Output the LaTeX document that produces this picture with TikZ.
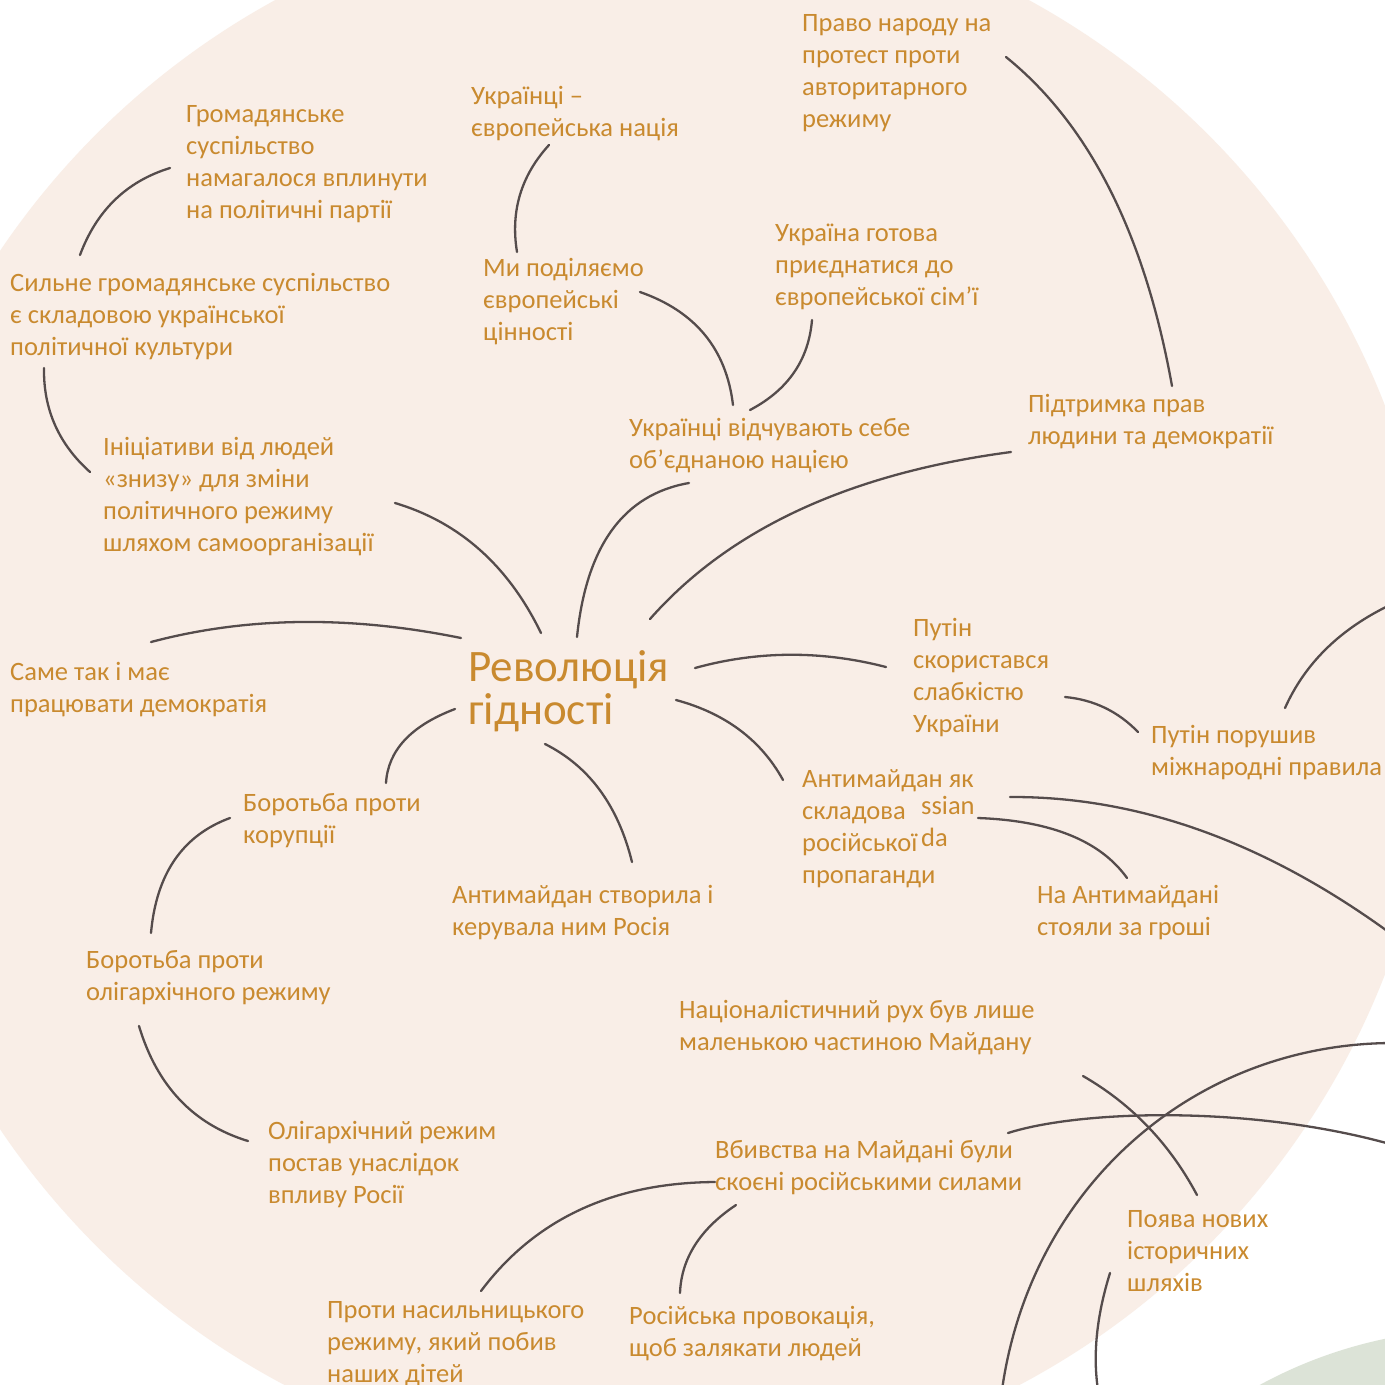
\documentclass[tikz,border=0pt]{standalone}
\usepackage{fontspec}
\setmainfont{Carlito}
\usetikzlibrary{calc}
\definecolor{beigec}{HTML}{F9EEE7}
\definecolor{greenc}{HTML}{DCE3D7}
\definecolor{txtc}{HTML}{C98A2F}
\definecolor{linec}{HTML}{554C4C}
\newcommand\tstrut{\rule{0pt}{24pt}}
\newcommand\bstrut{\rule{0pt}{35pt}}
% quadratic curve from #1 with control #2 to #3
\newcommand\qcurve[3]{\draw[conn] (#1) .. controls ($(#1)!0.6667!(#2)$) and ($(#3)!0.6667!(#2)$) .. (#3);}
\begin{document}
\begin{tikzpicture}[x=1pt,y=-1pt,
  lbl/.style={anchor=north west, inner sep=0pt, align=left, text=txtc,
    font=\fontsize{26.5}{32}\selectfont},
  title/.style={anchor=north west, inner sep=0pt, align=left, text=txtc,
    font=\fontsize{45}{43}\selectfont},
  conn/.style={draw=linec, line width=2.3pt, line cap=round}]
\useasboundingbox (0,0) rectangle (1385,1385);
\clip (0,0) rectangle (1385,1385);
\fill[white] (0,0) rectangle (1385,1385);
\fill[beigec] (652,690) circle[radius=786pt];
\fill[greenc] (1480,1790) circle[radius=461pt];

% labels
\node[lbl] (grom) at (186,98) {\tstrut Громадянське\\суспільство\\намагалося вплинути\\на політичні партії};
\node[lbl] (sylne) at (10,267) {\tstrut Сильне громадянське суспільство\\є складовою української\\політичної культури};
\node[lbl] (ukr) at (471,80) {\tstrut Українці –\\європейська нація};
\node[lbl] (pravo) at (802,7) {\tstrut Право народу на\\протест проти\\авторитарного\\режиму};
\node[lbl] (my) at (483,252) {\tstrut Ми поділяємо\\європейські\\цінності};
\node[lbl] (ukraina) at (775,217) {\tstrut Україна готова\\приєднатися до\\європейської сім’ї};
\node[lbl] (vidch) at (629,412) {\tstrut Українці відчувають себе\\об’єднаною нацією};
\node[lbl] (pidtr) at (1028,388) {\tstrut Підтримка прав\\людини та демократії};
\node[lbl] (inic) at (103,431) {\tstrut Ініціативи від людей\\«знизу» для зміни\\політичного режиму\\шляхом самоорганізації};
\node[lbl] (same) at (10,656) {\tstrut Саме так і має\\працювати демократія};
\node[title] (rev) at (468,646) {\bstrut Революція\\гідності};
\node[lbl] (putin1) at (913,612) {\tstrut Путін\\скористався\\слабкістю\\України};
\node[lbl] (putin2) at (1151,719) {\tstrut Путін порушив\\міжнародні правила};
\node[lbl] (antim) at (802,763) {\tstrut Антимайдан як\\складова\\російської\\пропаганди};
\node[lbl] (ssian) at (921,790) {\tstrut ssian};
\node[lbl] (da) at (921,822) {\tstrut da};
\node[lbl] (naant) at (1037,879) {\tstrut На Антимайдані\\стояли за гроші};
\node[lbl] (borkor) at (243,787) {\tstrut Боротьба проти\\корупції};
\node[lbl] (antstv) at (452,879) {\tstrut Антимайдан створила і\\керувала ним Росія};
\node[lbl] (borolig) at (86,944) {\tstrut Боротьба проти\\олігархічного режиму};
\node[lbl] (nac) at (679,994) {\tstrut Націоналістичний рух був лише\\маленькою частиною Майдану};
\node[lbl] (olig) at (268,1115) {\tstrut Олігархічний режим\\постав унаслідок\\впливу Росії};
\node[lbl] (vbyv) at (715,1134) {\tstrut Вбивства на Майдані були\\скоєні російськими силами};
\node[lbl] (poyava) at (1127,1203) {\tstrut Поява нових\\історичних\\шляхів};
\node[lbl] (proty) at (327,1294) {\tstrut Проти насильницького\\режиму, який побив\\наших дітей};
\node[lbl] (rosprov) at (629,1300) {\tstrut Російська провокація,\\щоб залякати людей};

% connector end points and control points
\coordinate (a1) at (170,168); \coordinate (ac) at (105,188); \coordinate (a2) at (80,255);
\coordinate (b1) at (44,368); \coordinate (bc) at (43,430); \coordinate (b2) at (90,472);
\coordinate (c1) at (549,145); \coordinate (cc) at (507,191); \coordinate (c2) at (517,252);
\coordinate (d1) at (640,292); \coordinate (dc) at (723,321); \coordinate (d2) at (733,405);
\coordinate (e1) at (812,320); \coordinate (ec) at (807,380); \coordinate (e2) at (750,410);
\coordinate (f1) at (1006,57); \coordinate (fc) at (1131,158); \coordinate (f2) at (1172,386);
\coordinate (g1) at (395,503); \coordinate (gc) at (492,532); \coordinate (g2) at (541,633);
\coordinate (h1) at (689,483); \coordinate (hc) at (591,500); \coordinate (h2) at (577,637);
\coordinate (i1) at (1011,452); \coordinate (ic) at (769,484); \coordinate (i2) at (650,619);
\coordinate (j1) at (151,642); \coordinate (jc) at (294,604); \coordinate (j2) at (461,638);
\coordinate (k1) at (695,668); \coordinate (kc) at (789,642); \coordinate (k2) at (886,667);
\coordinate (l1) at (1065,697); \coordinate (lc) at (1108,701); \coordinate (l2) at (1138,732);
\coordinate (m1) at (1285,708); \coordinate (mc) at (1315,641); \coordinate (m2) at (1390,605);
\coordinate (n1) at (676,700); \coordinate (nc) at (750,720); \coordinate (n2) at (783,780);
\coordinate (o1) at (455,709); \coordinate (oc) at (389,734); \coordinate (o2) at (386,783);
\coordinate (p1) at (545,744); \coordinate (pc) at (611,777); \coordinate (p2) at (632,862);
\coordinate (q1) at (1010,797); \coordinate (qc) at (1202,796); \coordinate (q2) at (1390,933);
\coordinate (r1) at (978,818); \coordinate (rc) at (1087,822); \coordinate (r2) at (1127,878);
\coordinate (s1) at (230,818); \coordinate (sc) at (159,844); \coordinate (s2) at (151,933);
\coordinate (t1) at (139,1026); \coordinate (tc) at (166,1116); \coordinate (t2) at (248,1141);
\coordinate (u1) at (715,1182); \coordinate (uc) at (562,1183); \coordinate (u2) at (481,1291);
\coordinate (v1) at (736,1205); \coordinate (vc) at (682,1241); \coordinate (v2) at (680,1293);
\coordinate (w1) at (1008,1133); \coordinate (w2) at (1390,1144);
\coordinate (x1) at (1390,1043); \coordinate (x2) at (1002,1390);
\coordinate (y1) at (1083,1076); \coordinate (yc) at (1156,1118); \coordinate (y2) at (1197,1195);
\coordinate (z1) at (1110,1273); \coordinate (zc) at (1090,1337); \coordinate (z2) at (1098,1390);

% connectors
\qcurve{a1}{ac}{a2}
\qcurve{b1}{bc}{b2}
\qcurve{c1}{cc}{c2}
\qcurve{d1}{dc}{d2}
\qcurve{e1}{ec}{e2}
\qcurve{f1}{fc}{f2}
\qcurve{g1}{gc}{g2}
\qcurve{h1}{hc}{h2}
\qcurve{i1}{ic}{i2}
\qcurve{j1}{jc}{j2}
\qcurve{k1}{kc}{k2}
\qcurve{l1}{lc}{l2}
\qcurve{m1}{mc}{m2}
\qcurve{n1}{nc}{n2}
\qcurve{o1}{oc}{o2}
\qcurve{p1}{pc}{p2}
\qcurve{q1}{qc}{q2}
\qcurve{r1}{rc}{r2}
\qcurve{s1}{sc}{s2}
\qcurve{t1}{tc}{t2}
\qcurve{u1}{uc}{u2}
\qcurve{v1}{vc}{v2}
\draw[conn] (w1) .. controls (1080,1110) and (1250,1105) .. (w2);
\draw[conn] (x1) .. controls (1190,1045) and (1030,1190) .. (x2);
\qcurve{y1}{yc}{y2}
\qcurve{z1}{zc}{z2}
\end{tikzpicture}
\end{document}
